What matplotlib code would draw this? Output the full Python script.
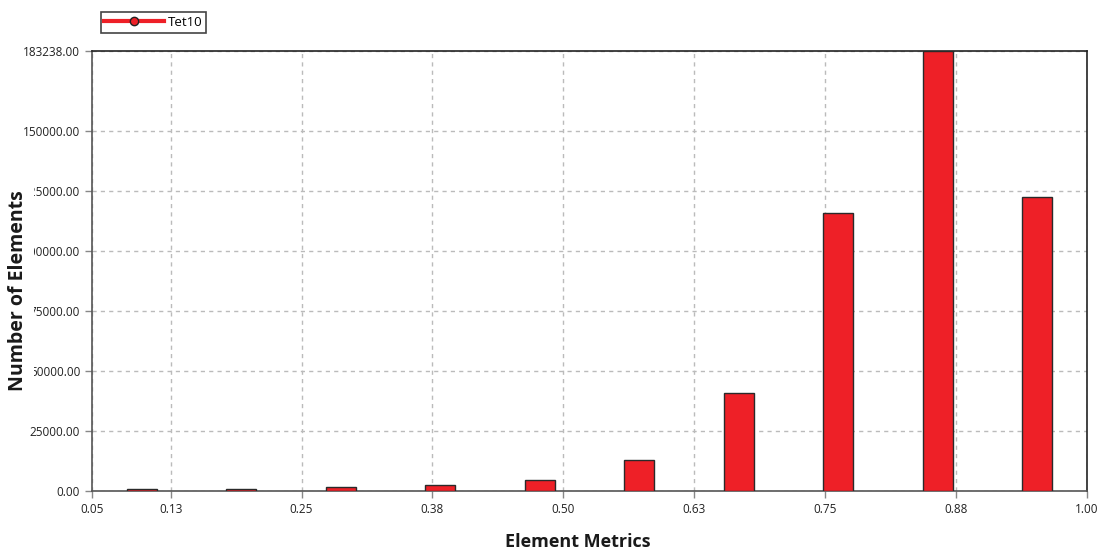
import numpy as np
import matplotlib.pyplot as plt

# bins of the element metric histogram
bin_lo, bin_hi, n_bins = 0.05, 1.00, 10
counts = [1000, 900, 1800, 2300, 4600, 12900, 40800, 115800, 183238, 122400]
y_max = 183238
y_ticks = [0, 25000, 50000, 75000, 100000, 125000, 150000, 183238]
x_ticks = [0.05, 0.125, 0.25, 0.375, 0.5, 0.625, 0.75, 0.875, 1.0]
x_labels = ["0.05", "0.13", "0.25", "0.38", "0.50", "0.63", "0.75", "0.88", "1.00"]

plt.rcParams['font.family'] = ['Open Sans', 'DejaVu Sans']

fig = plt.figure(figsize=(11.05, 5.5), dpi=100)
ax = fig.add_axes([0.0833, 0.1073, 0.9004, 0.8])

width = (bin_hi - bin_lo) / n_bins
centers = bin_lo + width * (np.arange(n_bins) + 0.5)
ax.bar(centers, counts, width=width * 0.3, color='#ee2027',
       edgecolor='#2a2a2a', linewidth=1.0, zorder=3)

ax.set_xlim(bin_lo, bin_hi)
ax.set_ylim(0, y_max)
ax.set_xticks(x_ticks)
ax.set_xticklabels(x_labels)
ax.set_yticks(y_ticks)
ax.set_yticklabels([f"{v:.2f}" for v in y_ticks])
ax.tick_params(labelsize=8.5, colors='#888888', length=5, width=1, labelcolor='#222222')

ax.grid(True, linestyle=(0, (3, 3)), color='#bbbbbb', linewidth=1, zorder=0)

for s in ['left', 'bottom']:
    ax.spines[s].set_color('#555555')
for s in ['top', 'right']:
    ax.spines[s].set_color('#222222')
for s in ax.spines.values():
    s.set_linewidth(1.2)

ax.set_xlabel("Element Metrics", fontsize=13, fontweight='bold', color='#1a1a1a', labelpad=12)
ax.xaxis.set_label_coords(0.488, -0.095)
# the label box hides part of the tick labels, as in the source screenshot
ax.set_ylabel("Number of Elements", fontsize=14, fontweight='bold', color='#1a1a1a',
              bbox=dict(facecolor='white', edgecolor='none', pad=4))
ax.yaxis.set_label_coords(-0.064, 0.455)

h, = ax.plot([], [], color='#ee2027', linewidth=3, marker='o', markersize=6,
             markerfacecolor='#ee2027', markeredgecolor='#222222', label='Tet10')
leg = fig.legend(handles=[h], loc='upper left', bbox_to_anchor=(0.085, 0.99),
                 fontsize=9.5, fancybox=False, framealpha=1, edgecolor='#444444',
                 handlelength=4.5, borderpad=0.3, handletextpad=0.3)
leg.get_frame().set_linewidth(1.2)

fig.savefig("out.png", dpi=100)
